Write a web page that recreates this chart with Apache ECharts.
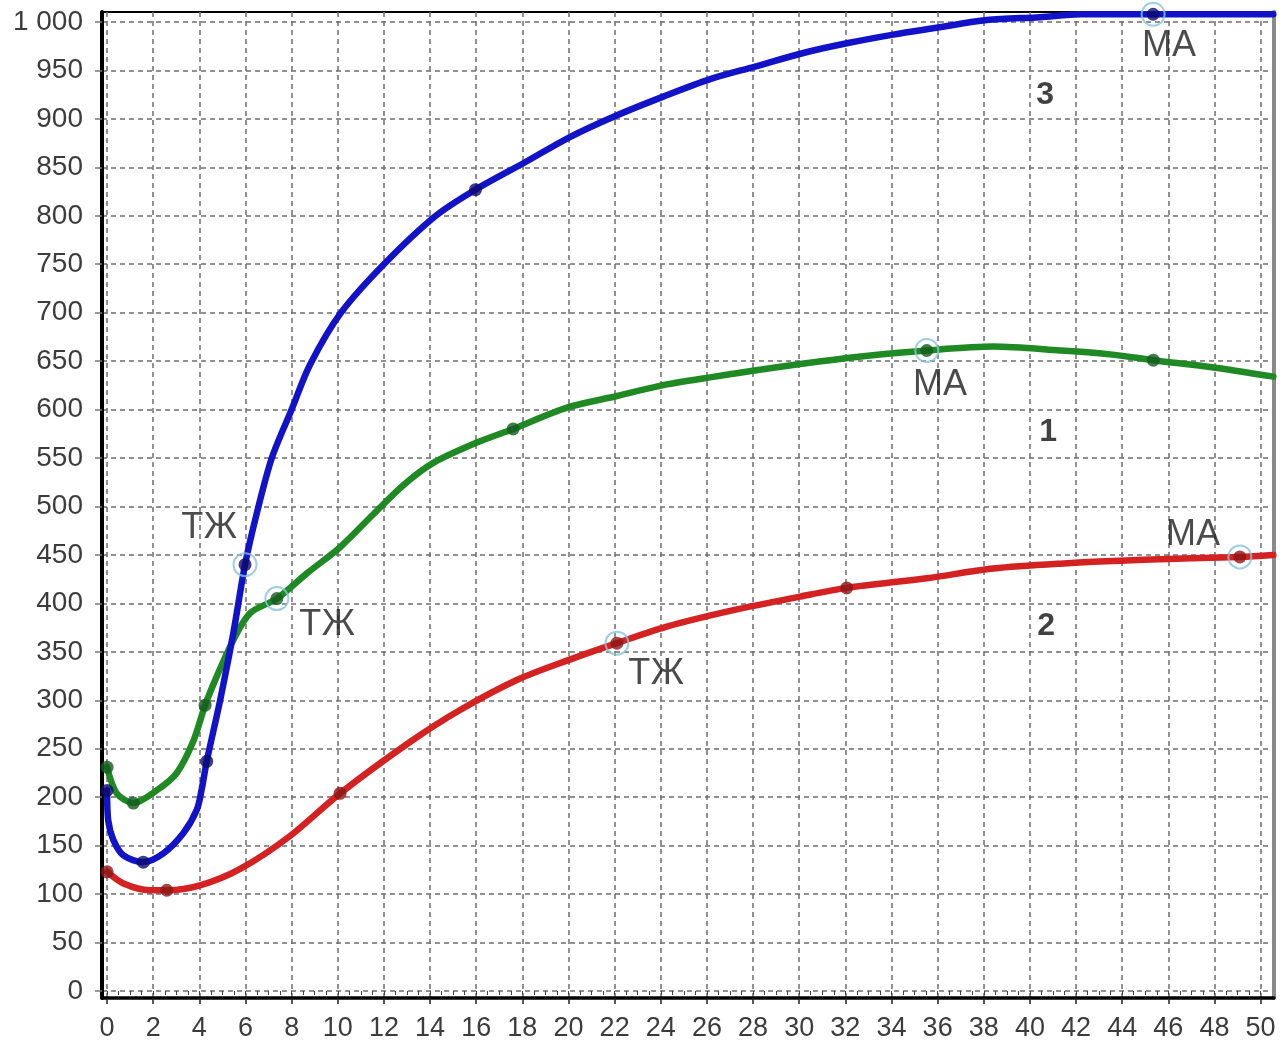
<!DOCTYPE html>
<html>
<head>
<meta charset="utf-8">
<script src="https://cdn.jsdelivr.net/npm/echarts@6/dist/echarts.min.js"></script>
<style>
html,body{margin:0;padding:0;background:#fff;}
#chart{width:1280px;height:1048px;}
</style>
</head>
<body>
<div id="chart"></div>
<script>
// ---- tick values ----
const xTicks = [0,2,4,6,8,10,12,14,16,18,20,22,24,26,28,30,32,34,36,38,40,42,44,46,48,50];
const yTicks = [0,50,100,150,200,250,300,350,400,450,500,550,600,650,700,750,800,850,900,950,1000];

// ---- curve 3 (blue) ----
const blueCurve = [
  [0,207],[0.05,176],[0.27,156],[0.71,140],[1.57,133],[2.44,142],[3.31,163],[3.89,187],
  [4.1,208],[4.32,237],[4.9,300],[5.47,369],[5.98,440],[6.49,493],[7.14,550],[8.0,600],
  [8.79,646],[10.14,700],[12.0,750],[14.25,800],[15.97,827],[18.1,855],[20.04,881],
  [22.03,903],[24.11,923],[26.14,941],[28.09,954],[30.18,968],[32.06,978],[34.08,987],
  [35.96,994],[38.13,1002],[40.44,1005],[42.2,1008],[45.34,1008],[48,1008],[50.55,1008]
];
// ---- curve 1 (green) ----
const greenCurve = [
  [0,231],[0.42,204],[1.14,194],[2.15,207],[3.02,225],[3.74,258],[4.25,295],[4.76,325],
  [5.47,362],[6.2,390],[7.36,405],[8.66,431],[10.1,458],[11.54,492],[12.84,522],[14.14,545],
  [16.03,566],[17.6,580],[19.93,602],[22.1,614],[24.26,626],[27.15,637],[30.04,647],
  [32.78,655],[35.53,661],[38.42,665],[41.31,661],[43.48,657],[45.35,651],[47.81,644],[50.55,634]
];
// ---- curve 2 (red) ----
const redCurve = [
  [0,123],[0.71,111],[1.86,104],[2.59,104],[4.03,109],[5.77,126],[7.93,160],[10.1,204],
  [13.13,257],[15.3,290],[17.76,321],[19.93,341],[22.1,359],[24.26,376],[27.15,393],
  [30.04,407],[32.06,416],[35.53,426],[38.42,436],[41.31,441],[44.92,445],[49.1,448],[50.55,450]
];

// ---- dot markers on curves ----
const blueDots = [[0,207],[1.57,133],[4.32,237],[5.98,440],[15.97,827],[45.34,1008]];
const greenDots = [[0,231],[1.14,194],[4.25,295],[7.36,405],[17.6,580],[35.53,661],[45.35,651]];
const redDots = [[0,123],[2.59,104],[10.1,204],[22.1,359],[32.06,416],[49.1,448]];

// ---- highlighted points (ТЖ / МА) ----
const keyPoints = [[5.98,440],[7.36,405],[22.1,359],[35.53,661],[49.1,448],[45.34,1008]];

// ---- annotations ----
const annotations = [
  [4.42,478,'ТЖ'],[9.54,378,'ТЖ'],[23.8,327,'ТЖ'],
  [36.1,625,'МА'],[47.07,471,'МА'],[46.03,975,'МА']
];
const curveNumbers = [[40.66,924,'3'],[40.79,577,'1'],[40.7,376,'2']];

// minor tick positions for the x axis (every 0.5)
const xMinor = [];
for (let i = 0; i <= 100; i++) xMinor.push(i * 0.5);

const X_MIN = -0.22, X_MAX = 50.58, Y_MIN = -7.2, Y_MAX = 1010.3;
const FONT = 'Liberation Sans, Arial, sans-serif';
const gridLine = {show: true, lineStyle: {color: '#6e6e6e', width: 1.5, type: [5, 4]}};

const chart = echarts.init(document.getElementById('chart'), null, {renderer: 'canvas'});

function lineSeries(data, color) {
  return {
    type: 'line', data: data, showSymbol: false, smooth: 0.3,
    lineStyle: {color: color, width: 6.5, cap: 'round', join: 'round'}, z: 3, silent: true
  };
}
function dotSeries(data, color) {
  return {
    type: 'scatter', data: data, symbol: 'circle', symbolSize: 13,
    itemStyle: {color: color}, z: 5, silent: true, clip: false
  };
}
function textSeries(data, size, weight, color) {
  return {
    type: 'scatter', data: data, symbolSize: 1, itemStyle: {color: 'transparent'},
    z: 10, silent: true, clip: false,
    label: {show: true, position: 'inside', formatter: p => p.value[2],
      fontSize: size, fontWeight: weight, color: color, fontFamily: FONT}
  };
}

chart.setOption({
  animation: false,
  backgroundColor: '#ffffff',
  grid: {left: 102, right: 6, top: 12, bottom: 50, show: true, borderColor: '#000', borderWidth: 2},
  xAxis: [
    {
      type: 'value', min: X_MIN, max: X_MAX, position: 'bottom',
      axisLine: {show: true, onZero: false, lineStyle: {color: '#000', width: 3.5}},
      axisTick: {show: true, length: 6, customValues: xTicks, lineStyle: {color: '#222', width: 1.5}},
      axisLabel: {customValues: xTicks, fontSize: 27, color: '#3c3c3c', margin: 17, fontFamily: FONT},
      splitLine: gridLine
    },
    {
      type: 'value', min: X_MIN, max: X_MAX, position: 'bottom',
      axisLine: {show: false},
      axisTick: {show: true, length: 4, customValues: xMinor, lineStyle: {color: '#444', width: 1}},
      axisLabel: {show: false}, splitLine: {show: false}
    }
  ],
  yAxis: [
    {
      type: 'value', min: Y_MIN, max: Y_MAX, position: 'left',
      axisLine: {show: true, onZero: false, lineStyle: {color: '#000', width: 4}},
      axisTick: {show: true, length: 7, customValues: yTicks, lineStyle: {color: '#777', width: 1.5}},
      axisLabel: {customValues: yTicks, fontSize: 28, color: '#3c3c3c', margin: 19, fontFamily: FONT,
        formatter: v => v >= 1000 ? String(v).replace(/\B(?=(\d{3})+(?!\d))/g, ' ') : String(v)},
      splitLine: gridLine
    },
    {
      type: 'value', min: Y_MIN, max: Y_MAX, position: 'right',
      axisLine: {show: true, onZero: false, lineStyle: {color: '#8a8a8a', width: 4}},
      axisTick: {show: false}, axisLabel: {show: false}, splitLine: {show: false}
    }
  ],
  series: [
    lineSeries(redCurve, '#d42222'),
    lineSeries(greenCurve, '#1f8a24'),
    lineSeries(blueCurve, '#1212c8'),
    {
      type: 'scatter', data: keyPoints, symbol: 'circle', symbolSize: 23,
      itemStyle: {color: 'rgba(255,255,255,0)', borderColor: '#86c2da', borderWidth: 2},
      z: 4, silent: true, clip: false
    },
    dotSeries(redDots, '#8a1616'),
    dotSeries(greenDots, '#145a1e'),
    dotSeries(blueDots, '#0c0c6e'),
    textSeries(annotations, 36, 'normal', '#1e1e1e'),
    textSeries(curveNumbers, 32, 'bold', '#111')
  ]
});
</script>
</body>
</html>
